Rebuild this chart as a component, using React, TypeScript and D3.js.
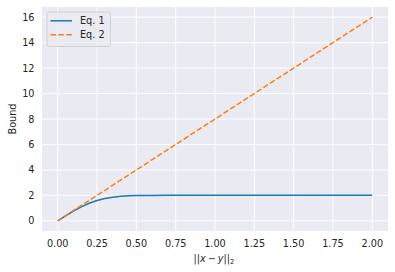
import React from "react";
import * as d3 from "d3";

const eq1X = [0, 0.05, 0.1, 0.15, 0.2, 0.25, 0.3, 0.35, 0.4, 0.45, 0.5, 0.6, 0.7, 0.8, 1.0, 1.25, 1.5, 1.75, 2.0];
const eq1Y = [0, 0.396, 0.77, 1.099, 1.375, 1.59, 1.747, 1.854, 1.921, 1.96, 1.982, 1.997, 1.9995, 2.0, 2.0, 2.0, 2.0, 2.0, 2.0];
const eq2X = [0, 0.5, 1.0, 1.5, 2.0];
const eq2Y = [0, 4, 8, 12, 16];
const xTicks = [0, 0.25, 0.5, 0.75, 1.0, 1.25, 1.5, 1.75, 2.0];
const yTicks = [0, 2, 4, 6, 8, 10, 12, 14, 16];
const seriesNames = ["Eq. 1", "Eq. 2"];

export default function App() {
  const W = 395, H = 272;
  const L = 42, R = 388, T = 7, B = 231;
  const x = d3.scaleLinear().domain([-0.1, 2.1]).range([L, R]);
  const y = d3.scaleLinear().domain([-0.8, 16.8]).range([B, T]);
  const line = d3.line<[number, number]>().x(d => x(d[0])).y(d => y(d[1]));
  const d1 = line(eq1X.map((v, i) => [v, eq1Y[i]]) as [number, number][]) || "";
  const d2 = line(eq2X.map((v, i) => [v, eq2Y[i]]) as [number, number][]) || "";
  const font = "DejaVu Sans, sans-serif";
  const tc = "#262626";
  return (
    <svg width={W} height={H} style={{ position: "absolute", left: 0, top: 0 }} fontFamily={font}>
      <rect x={0} y={0} width={W} height={H} fill="white" />
      <rect x={L} y={T} width={R - L} height={B - T} fill="#EAEAF2" />
      {xTicks.map(t => (
        <line key={"gx" + t} x1={x(t)} x2={x(t)} y1={T} y2={B} stroke="white" strokeWidth={1} />
      ))}
      {yTicks.map(t => (
        <line key={"gy" + t} x1={L} x2={R} y1={y(t)} y2={y(t)} stroke="white" strokeWidth={1} />
      ))}
      <path d={d1} fill="none" stroke="#1f77b4" strokeWidth={1.5} />
      <path d={d2} fill="none" stroke="#ff7f0e" strokeWidth={1.5} strokeDasharray="5.5,2.4" />
      {xTicks.map(t => (
        <text key={"tx" + t} x={x(t)} y={246.5} fontSize={9.7} fill={tc} textAnchor="middle">
          {t.toFixed(2)}
        </text>
      ))}
      {yTicks.map(t => (
        <text key={"ty" + t} x={34.5} y={y(t) + 3.5} fontSize={9.7} fill={tc} textAnchor="end">
          {t}
        </text>
      ))}
      <text x={15.5} y={(T + B) / 2} fontSize={9.7} fill={tc} textAnchor="middle" transform={`rotate(-90,15.5,${(T + B) / 2})`}>
        Bound
      </text>
      <text x={214} y={261.5} fontSize={9.7} fill={tc} textAnchor="middle">
        ||<tspan fontStyle="italic">x</tspan>{"\u2009−\u2009"}<tspan fontStyle="italic">y</tspan>||<tspan fontSize={6.8} dy={2}>2</tspan>
      </text>
      <g>
        <rect x={47} y={12} width={63.5} height={34.5} rx={2.5} fill="#EAEAF2" fillOpacity={0.8} stroke="#cccccc" strokeWidth={0.8} />
        <line x1={50.5} x2={72} y1={20.8} y2={20.8} stroke="#1f77b4" strokeWidth={1.5} />
        <line x1={50.5} x2={72} y1={34.8} y2={34.8} stroke="#ff7f0e" strokeWidth={1.5} strokeDasharray="5.5,2.4" />
        <text x={80} y={24.3} fontSize={9.7} fill={tc}>{seriesNames[0]}</text>
        <text x={80} y={38.3} fontSize={9.7} fill={tc}>{seriesNames[1]}</text>
      </g>
    </svg>
  );
}
